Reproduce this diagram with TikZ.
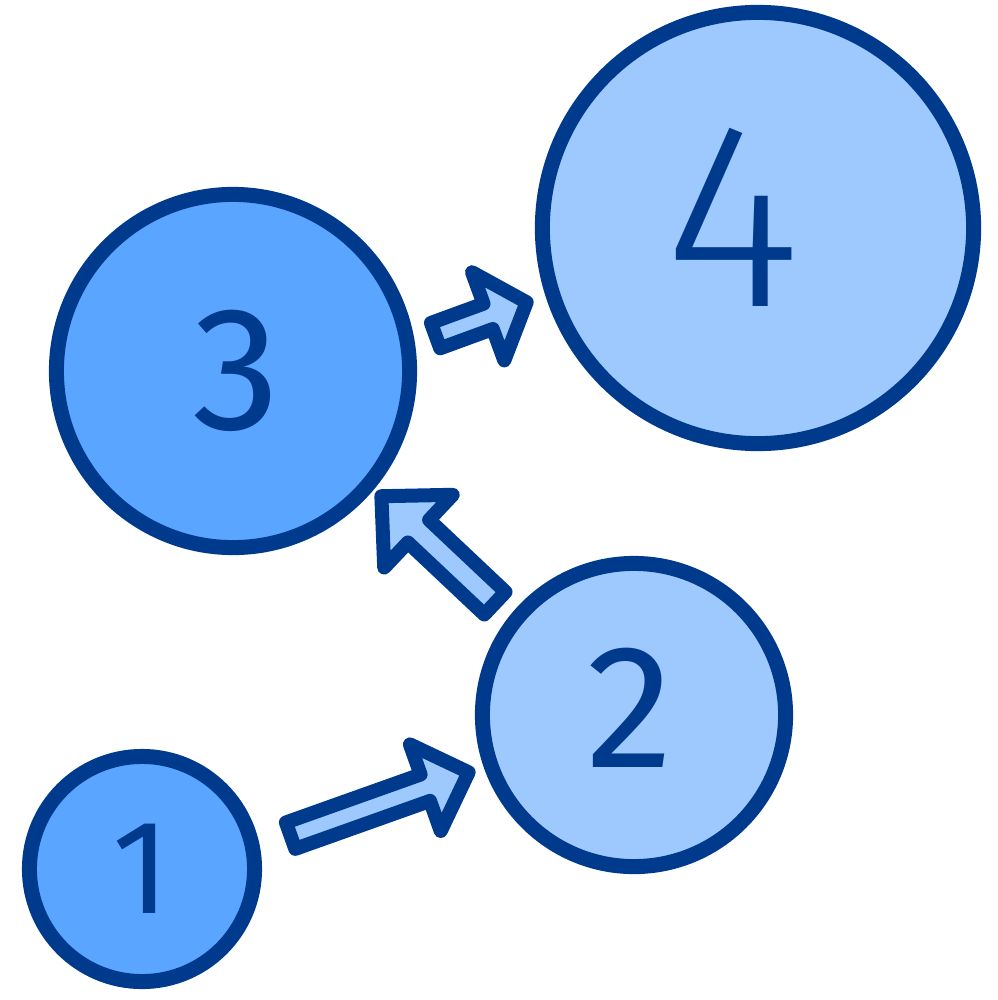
\documentclass[tikz,border=0pt]{standalone}
\usepackage{fontspec}
\usepackage{tikz}
\newfontfamily\digitfont{Fira Sans}
\newfontfamily\lightfont{Fira Sans}[UprightFont={* Light}]

\definecolor{edgeblue}{HTML}{003A8C}
\definecolor{darkfill}{HTML}{5AA5FF}
\definecolor{lightfill}{HTML}{9DC9FF}

\begin{document}
\begin{tikzpicture}[x=0.01cm, y=-0.01cm, line join=round]
        \tikzset{
            bubble/.style={circle, draw=edgeblue, line width=1.5mm, inner sep=0pt},
            digit/.style={text=edgeblue, inner sep=0pt},
            blockarrow/.style={draw=edgeblue, fill=lightfill, line width=1.4mm, line join=round}
        }
        \useasboundingbox (0,0) rectangle (998,1000);
        \begin{scope}
            \node [bubble, fill=darkfill, minimum size=2.25cm] (c1) at (142,869) {};
            \node [bubble, fill=lightfill, minimum size=3.03cm] (c2) at (634,715) {};
            \node [bubble, fill=darkfill, minimum size=3.53cm] (c3) at (233,371) {};
            \node [bubble, fill=lightfill, minimum size=4.31cm] (c4) at (758,228) {};
            \node [digit, font=\digitfont\fontsize{38}{38}\selectfont] (d1) at (141,869) {1};
            \node [digit, font=\digitfont\fontsize{50}{50}\selectfont] (d2) at (630,708) {2};
            \node [digit, font=\digitfont\fontsize{50}{50}\selectfont] (d3) at (236,371) {3};
            \node [digit, font=\lightfont\fontsize{75}{75}\selectfont] (d4) at (733,217) {4};
        \end{scope}
        % arrow from 1 to 2
        \begin{scope}[shift={(284,838)}, rotate=19.6]
            \draw [blockarrow] (7,-14) -- (150,-14) -- (150,-46) -- (196,0) -- (150,46) -- (150,14) -- (7,14) -- cycle;
        \end{scope}
        % arrow from 2 to 3
        \begin{scope}[shift={(500,608)}, rotate=136.7]
            \draw [blockarrow] (7,-15.5) -- (112,-15.5) -- (112,-50) -- (163,0) -- (112,50) -- (112,15.5) -- (7,15.5) -- cycle;
        \end{scope}
        % arrow from 3 to 4
        \begin{scope}[shift={(429,338)}, rotate=20.1]
            \draw [blockarrow] (7,-13.5) -- (63,-13.5) -- (63,-47) -- (104,0) -- (63,47) -- (63,13.5) -- (7,13.5) -- cycle;
        \end{scope}
    \end{tikzpicture}
\end{document}
